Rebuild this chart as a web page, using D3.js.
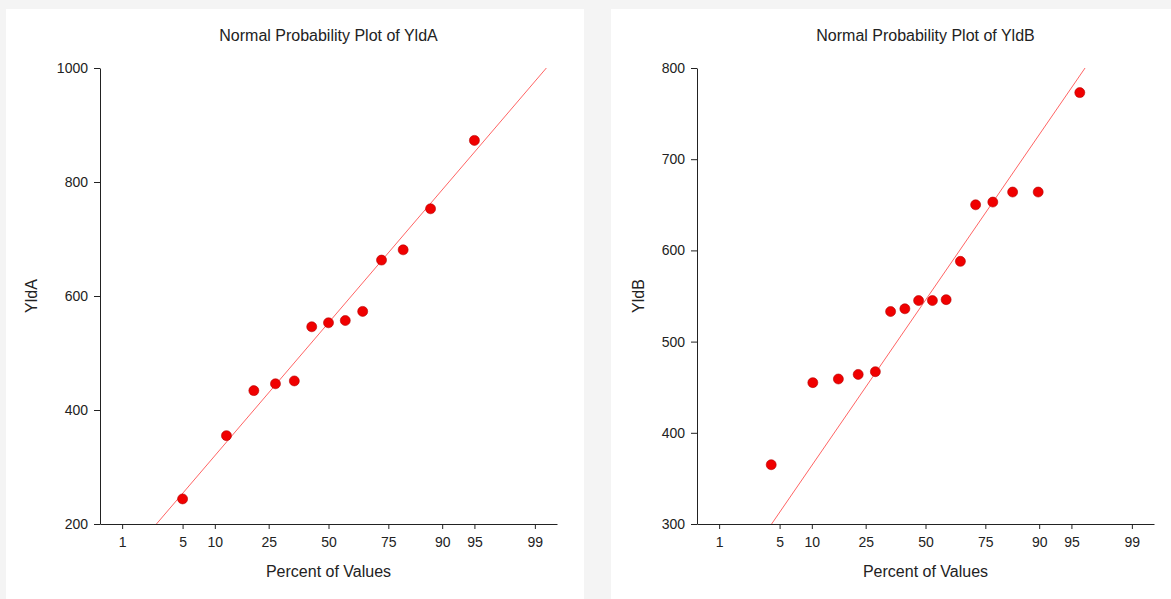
<!DOCTYPE html>
<html>
<head>
<meta charset="utf-8">
<script src="https://cdn.jsdelivr.net/npm/d3@7"></script>
<style>
  html, body { margin: 0; padding: 0; background: #f4f4f4; }
  svg { display: block; font-family: "Liberation Sans", Arial, sans-serif; }
</style>
</head>
<body>
<div id="chart"></div>
<script>
// percent tick labels on the probability axis
const pctTicks = [1, 5, 10, 25, 50, 75, 90, 95, 99];

// YldA: plotting percent and value of each point
const pctA = [5.0, 12.5, 20.0, 27.5, 35.0, 42.5, 50.0, 57.5, 65.0, 72.5, 80.0, 87.5, 95.0];
const yldA = [244, 355, 434, 446, 451, 546, 553, 557, 573, 663, 681, 753, 873];
const yTicksA = [200, 400, 600, 800, 1000];
const refLineA = [553, 182]; // value at 50%, value per normal score unit

// YldB
const pctB = [4.1, 10.2, 16.3, 22.4, 28.6, 34.7, 40.8, 46.9, 53.1, 59.2, 65.3, 71.4, 77.6, 83.7, 89.8, 95.9];
const yldB = [365, 455, 459, 464, 467, 533, 536, 545, 545, 546, 588, 650, 653, 664, 664, 773];
const yTicksB = [300, 400, 500, 600, 700, 800];
const refLineB = [545.5, 141.5];

// inverse normal cdf (Acklam)
function probit(p) {
  const a = [-3.969683028665376e+01, 2.209460984245205e+02, -2.759285104469687e+02, 1.383577518672690e+02, -3.066479806614716e+01, 2.506628277459239e+00];
  const b = [-5.447609879822406e+01, 1.615858368580409e+02, -1.556989798598866e+02, 6.680131188771972e+01, -1.328068155288572e+01];
  const c = [-7.784894002430293e-03, -3.223964580411365e-01, -2.400758277161838e+00, -2.549732539343734e+00, 4.374664141464968e+00, 2.938163982698783e+00];
  const d = [7.784695709041462e-03, 3.224671290700398e-01, 2.445134137142996e+00, 3.754408661907416e+00];
  const lo = 0.02425;
  let q, r;
  if (p < lo) {
    q = Math.sqrt(-2 * Math.log(p));
    return (((((c[0]*q+c[1])*q+c[2])*q+c[3])*q+c[4])*q+c[5]) / ((((d[0]*q+d[1])*q+d[2])*q+d[3])*q+1);
  }
  if (p > 1 - lo) return -probit(1 - p);
  q = p - 0.5; r = q * q;
  return (((((a[0]*r+a[1])*r+a[2])*r+a[3])*r+a[4])*r+a[5])*q / (((((b[0]*r+b[1])*r+b[2])*r+b[3])*r+b[4])*r+1);
}

const W = 1171, H = 599;
const svg = d3.select('#chart').append('svg').attr('width', W).attr('height', H);

function drawPanel(cfg) {
  const g = svg.append('g');
  g.append('rect').attr('x', cfg.box[0]).attr('y', cfg.box[1])
    .attr('width', cfg.box[2]).attr('height', cfg.box[3]).attr('fill', '#fff');

  const left = cfg.left, top = 68, w = 457, h = 456;
  const x = d3.scaleLinear().domain([probit(0.005), probit(0.995)]).range([left, left + w]);
  const y = d3.scaleLinear().domain(d3.extent(cfg.yTicks)).range([top + h, top]);

  const xAxis = d3.axisBottom(x)
    .tickValues(pctTicks.map(p => probit(p / 100)))
    .tickFormat((d, i) => pctTicks[i])
    .tickSizeInner(5).tickSizeOuter(0).tickPadding(8);
  const yAxis = d3.axisLeft(y).tickValues(cfg.yTicks).tickFormat(d3.format('d'))
    .tickSizeInner(6).tickSizeOuter(0).tickPadding(6);

  const ax = g.append('g').attr('transform', `translate(0,${top + h})`).call(xAxis);
  const ay = g.append('g').attr('transform', `translate(${left},0)`).call(yAxis);
  [ax, ay].forEach(a => {
    a.selectAll('path, line').attr('stroke', '#222');
    a.selectAll('text').attr('fill', '#222').style('font-size', '14px');
  });

  // reference line, clipped to the plot area
  const [mid, perZ] = cfg.ref;
  const [y0, y1] = y.domain();
  const z0 = Math.max((y0 - mid) / perZ, x.domain()[0]);
  const z1 = Math.min((y1 - mid) / perZ, x.domain()[1]);
  g.append('line')
    .attr('x1', x(z0)).attr('y1', y(mid + perZ * z0))
    .attr('x2', x(z1)).attr('y2', y(mid + perZ * z1))
    .attr('stroke', '#ff6464').attr('stroke-width', 1);

  g.selectAll('circle.pt').data(cfg.vals).enter().append('circle')
    .attr('class', 'pt')
    .attr('cx', (d, i) => x(probit(cfg.pct[i] / 100)))
    .attr('cy', d => y(d))
    .attr('r', 5)
    .attr('fill', '#f00000').attr('stroke', '#b40000').attr('stroke-width', 0.6);

  const cx = left + w / 2;
  g.append('text').attr('x', cx).attr('y', 41).attr('text-anchor', 'middle')
    .style('font-size', '16px').attr('fill', '#222').text(cfg.title);
  g.append('text').attr('x', cx).attr('y', 577).attr('text-anchor', 'middle')
    .style('font-size', '16px').attr('fill', '#222').text('Percent of Values');
  g.append('text').attr('transform', `translate(${cfg.ylabX},${top + h / 2}) rotate(-90)`)
    .attr('text-anchor', 'middle').attr('dy', '0.36em')
    .style('font-size', '16px').attr('fill', '#222').text(cfg.ylabel);
}

drawPanel({ box: [6, 9, 578, 590], left: 100, ylabX: 31, title: 'Normal Probability Plot of YldA',
  ylabel: 'YldA', pct: pctA, vals: yldA, yTicks: yTicksA, ref: refLineA });
drawPanel({ box: [611, 9, 560, 590], left: 697, ylabX: 638, title: 'Normal Probability Plot of YldB',
  ylabel: 'YldB', pct: pctB, vals: yldB, yTicks: yTicksB, ref: refLineB });
</script>
</body>
</html>
